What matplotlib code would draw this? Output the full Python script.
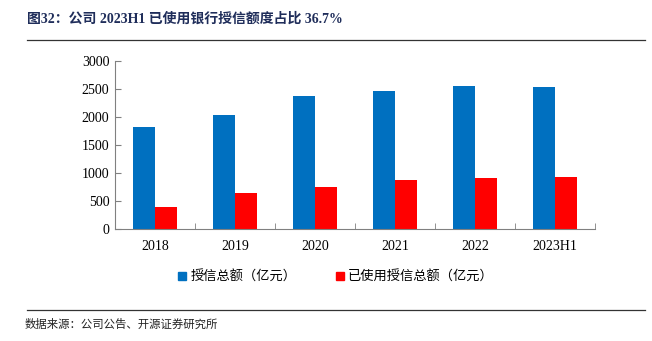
import matplotlib
matplotlib.use("Agg")
import matplotlib.pyplot as plt
import numpy as np
from matplotlib.patches import Patch
from matplotlib.lines import Line2D

categories = ["2018", "2019", "2020", "2021", "2022", "2023H1"]
total_credit = [1815, 2030, 2375, 2465, 2550, 2535]
used_credit = [390, 640, 750, 875, 912, 930]
series_names = ["授信总额（亿元）", "已使用授信总额（亿元）"]
yticks = [0, 500, 1000, 1500, 2000, 2500, 3000]

cjk = ["Noto Sans CJK SC", "DejaVu Sans"]
serif = ["Liberation Serif", "Noto Sans CJK SC"]

fig = plt.figure(figsize=(6.52, 3.41), dpi=100)
W, H = 652, 341
ax = fig.add_axes([115 / W, (H - 229) / H, 480 / W, 168 / H])

x = np.arange(len(categories))
w = 0.28
ax.bar(x - w / 2, total_credit, width=w, color="#0070C0", label=series_names[0])
ax.bar(x + w / 2, used_credit, width=w, color="#FF0000", label=series_names[1])

ax.set_xlim(-0.5, len(categories) - 0.5)
ax.set_ylim(0, 3000)
ax.set_yticks(yticks)
ax.set_yticklabels([str(v) for v in yticks], family=serif, fontsize=10)
ax.set_xticks(x)
ax.set_xticklabels(categories, family=serif, fontsize=10)
ax.tick_params(axis="x", which="major", length=0, pad=8)
ax.set_xticks(np.arange(-0.5, len(categories) + 0.5, 1), minor=True)
ax.tick_params(axis="x", which="minor", direction="in", length=4, color="#808080")
ax.tick_params(axis="y", direction="in", length=4, color="#808080", pad=4)
for s in ["top", "right"]:
    ax.spines[s].set_visible(False)
for s in ["left", "bottom"]:
    ax.spines[s].set_color("#808080")
    ax.spines[s].set_linewidth(0.8)

handles = [Patch(color="#0070C0"), Patch(color="#FF0000")]
fig.legend(handles, series_names, loc="center", bbox_to_anchor=(336 / W, (H - 277) / H),
           ncol=2, frameon=False, prop={"family": cjk, "size": 9.5},
           handlelength=0.6, handleheight=0.6, handletextpad=0.3, columnspacing=3.0)

fig.text(27 / W, (H - 19) / H, "图32：公司 2023H1 已使用银行授信额度占比 36.7%",
         family=serif, fontsize=10, fontweight="bold", color="#1F2D5A",
         ha="left", va="center")
fig.add_artist(Line2D([27 / W, 645 / W], [(H - 40) / H] * 2, color="#333333", lw=0.9))
fig.add_artist(Line2D([27 / W, 645 / W], [(H - 310) / H] * 2, color="#333333", lw=0.9))
fig.text(25 / W, (H - 324) / H, "数据来源：公司公告、开源证券研究所",
         family=cjk, fontsize=8.2, color="#222222", ha="left", va="center")

fig.savefig("out.png", dpi=100)
